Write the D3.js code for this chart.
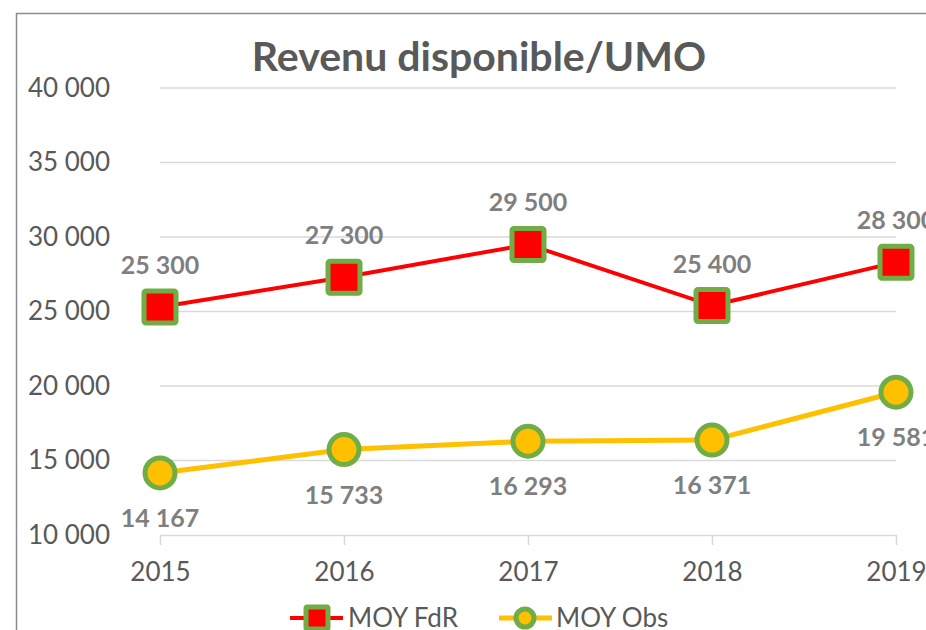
<!DOCTYPE html>
<html>
<head>
<meta charset="utf-8">
<script src="https://cdn.jsdelivr.net/npm/d3@7"></script>
<style>
body { margin: 0; background: #fff; }
text { font-family: Lato, "Open Sans", sans-serif; }
</style>
</head>
<body>
<div id="chart"></div>
<script>
// data
var years = ["2015", "2016", "2017", "2018", "2019"];
var moyFdR = [25300, 27300, 29500, 25400, 28300];
var moyObs = [14167, 15733, 16293, 16371, 19581];
var yTicks = [10000, 15000, 20000, 25000, 30000, 35000, 40000];

var W = 926, H = 630;
var fmt = d3.formatLocale({ decimal: ",", thousands: " ", grouping: [3], currency: ["", ""] }).format(",d");

var svg = d3.select("#chart").append("svg")
  .attr("width", W).attr("height", H);

// chart frame (right/bottom parts are cut off in the original)
svg.append("rect")
  .attr("x", 16.5).attr("y", 13.5)
  .attr("width", W + 20).attr("height", H + 20)
  .attr("fill", "#fff").attr("stroke", "#8c8c8c").attr("stroke-width", 1.5);

var x = d3.scalePoint().domain(years).range([160, 896]);
var y = d3.scaleLinear().domain([10000, 40000]).range([535, 88]);

// gridlines
svg.append("g").selectAll("line")
  .data(yTicks.slice(1))
  .enter().append("line")
  .attr("x1", 160).attr("x2", 896)
  .attr("y1", function (d) { return y(d); })
  .attr("y2", function (d) { return y(d); })
  .attr("stroke", "#d9d9d9").attr("stroke-width", 1.5);

// x axis
var xAxis = svg.append("g")
  .attr("transform", "translate(0," + y(10000) + ")")
  .call(d3.axisBottom(x).tickSize(10).tickPadding(18).tickSizeOuter(0));
xAxis.select(".domain").attr("stroke", "#d9d9d9").attr("stroke-width", 1.5);
xAxis.selectAll(".tick line").attr("stroke", "#d9d9d9").attr("stroke-width", 1.5);
xAxis.selectAll(".tick text")
  .attr("fill", "#595959").style("font-size", "26px")
  .style("font-family", "Lato, sans-serif");

// y axis labels
var yAxis = svg.append("g")
  .attr("transform", "translate(110,0)")
  .call(d3.axisLeft(y).tickValues(yTicks).tickFormat(fmt).tickSize(0).tickPadding(0));
yAxis.select(".domain").remove();
yAxis.selectAll(".tick text")
  .attr("fill", "#595959").style("font-size", "26px")
  .style("font-family", "Lato, sans-serif");

// title
svg.append("text")
  .attr("x", 479).attr("y", 71)
  .attr("text-anchor", "middle")
  .attr("fill", "#595959")
  .style("font-size", "41px").style("font-weight", "bold")
  .text("Revenu disponible/UMO");

var line = d3.line()
  .x(function (d, i) { return x(years[i]); })
  .y(function (d) { return y(d); });

// MOY FdR
svg.append("path").datum(moyFdR)
  .attr("d", line).attr("fill", "none")
  .attr("stroke", "#ff0000").attr("stroke-width", 4);
svg.append("g").selectAll("rect")
  .data(moyFdR).enter().append("rect")
  .attr("x", function (d, i) { return x(years[i]) - 16; })
  .attr("y", function (d) { return y(d) - 16; })
  .attr("width", 32).attr("height", 32).attr("rx", 2)
  .attr("fill", "#ff0000").attr("stroke", "#70ad47").attr("stroke-width", 5);
svg.append("g").selectAll("text")
  .data(moyFdR).enter().append("text")
  .attr("x", function (d, i) { return x(years[i]); })
  .attr("y", function (d) { return y(d) - 33; })
  .attr("text-anchor", "middle")
  .attr("fill", "#7f7f7f").style("font-size", "25px").style("font-weight", "bold")
  .text(function (d) { return fmt(d); });

// MOY Obs
svg.append("path").datum(moyObs)
  .attr("d", line).attr("fill", "none")
  .attr("stroke", "#ffc000").attr("stroke-width", 5);
svg.append("g").selectAll("circle")
  .data(moyObs).enter().append("circle")
  .attr("cx", function (d, i) { return x(years[i]); })
  .attr("cy", function (d) { return y(d); })
  .attr("r", 15)
  .attr("fill", "#ffc000").attr("stroke", "#70ad47").attr("stroke-width", 5);
svg.append("g").selectAll("text")
  .data(moyObs).enter().append("text")
  .attr("x", function (d, i) { return x(years[i]); })
  .attr("y", function (d) { return y(d) + 54; })
  .attr("text-anchor", "middle")
  .attr("fill", "#7f7f7f").style("font-size", "25px").style("font-weight", "bold")
  .text(function (d) { return fmt(d); });

// legend
var lg = svg.append("g").attr("transform", "translate(0,618)");
lg.append("line").attr("x1", 290).attr("x2", 343).attr("stroke", "#ff0000").attr("stroke-width", 4);
lg.append("rect").attr("x", 306).attr("y", -11).attr("width", 22).attr("height", 22).attr("rx", 1.5)
  .attr("fill", "#ff0000").attr("stroke", "#70ad47").attr("stroke-width", 5);
lg.append("text").attr("x", 348).attr("y", 9).attr("fill", "#595959")
  .style("font-size", "26px").text("MOY FdR");
lg.append("line").attr("x1", 499).attr("x2", 552).attr("stroke", "#ffc000").attr("stroke-width", 5);
lg.append("circle").attr("cx", 525).attr("cy", 0).attr("r", 9)
  .attr("fill", "#ffc000").attr("stroke", "#70ad47").attr("stroke-width", 5);
lg.append("text").attr("x", 556).attr("y", 9).attr("fill", "#595959")
  .style("font-size", "26px").text("MOY Obs");
</script>
</body>
</html>
